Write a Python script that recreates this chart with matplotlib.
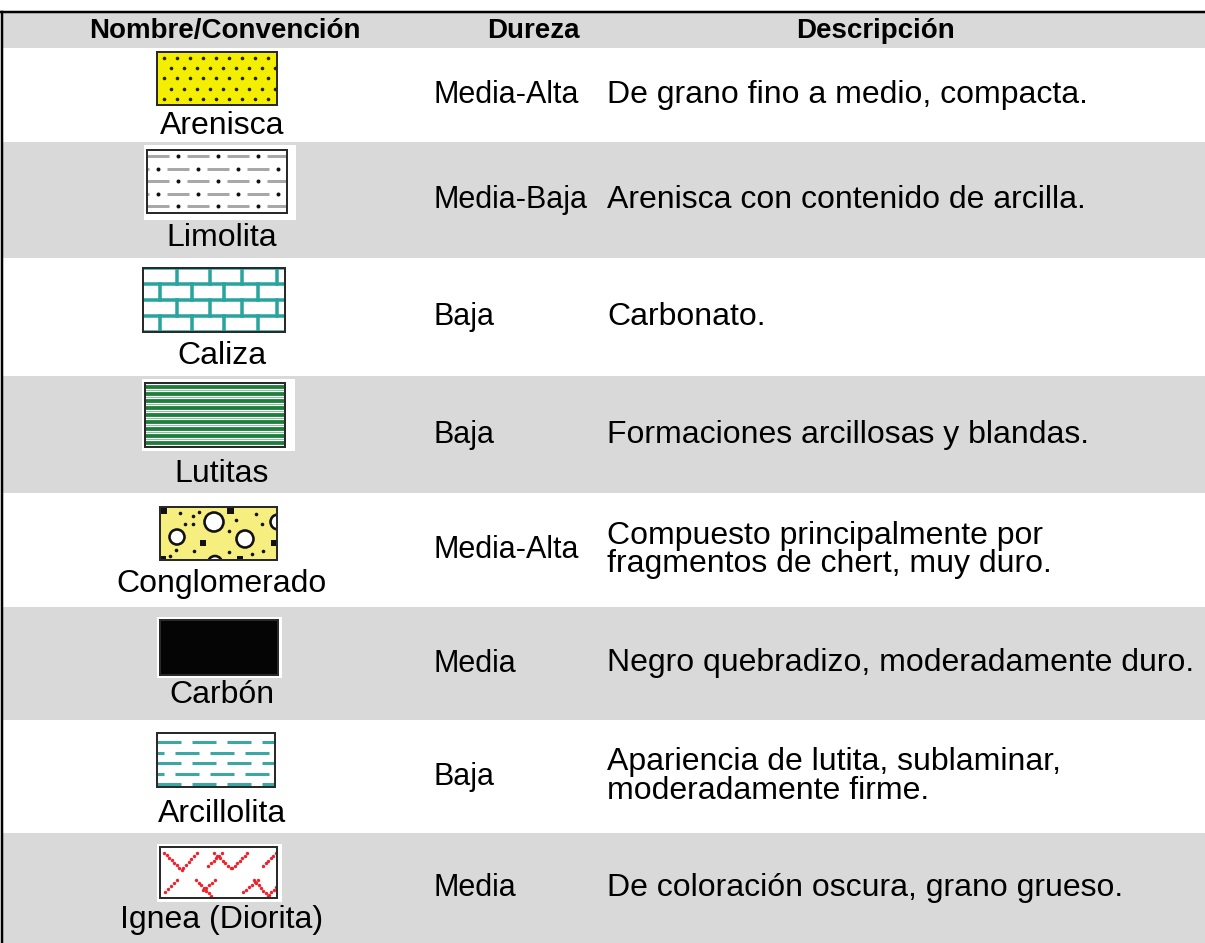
import matplotlib
matplotlib.use("Agg")
import matplotlib.pyplot as plt
import numpy as np
from matplotlib.patches import Rectangle, Circle

plt.rcParams["font.family"] = ["Liberation Sans", "DejaVu Sans"]

# table content
headers = ["Nombre/Convención", "Dureza", "Descripción"]
nombres = ["Arenisca", "Limolita", "Caliza", "Lutitas", "Conglomerado",
           "Carbón", "Arcillolita", "Ignea (Diorita)"]
dureza = ["Media-Alta", "Media-Baja", "Baja", "Baja", "Media-Alta",
          "Media", "Baja", "Media"]
descripcion = [
    "De grano fino a medio, compacta.",
    "Arenisca con contenido de arcilla.",
    "Carbonato.",
    "Formaciones arcillosas y blandas.",
    "Compuesto principalmente por\nfragmentos de chert, muy duro.",
    "Negro quebradizo, moderadamente duro.",
    "Apariencia de lutita, sublaminar,\nmoderadamente firme.",
    "De coloración oscura, grano grueso.",
]
patrones = ["arenisca", "limolita", "caliza", "lutitas", "conglomerado",
            "carbon", "arcillolita", "ignea"]

# layout (pixels)
W, H = 1205, 943
row_edges = [12, 48, 142, 258, 376, 493, 607, 720, 833, 943]
label_base = [134, 246, 364, 482, 592, 703, 822, 928]
GRAY = "#d9d9d9"
PX = 0.72  # px -> pt at dpi 100
FS = 23

# icon boxes: (x0, x1, y0, y1), white backing (x0, x1, y0, y1) or None
icon_box = {
    "arenisca": ((157, 277, 52, 105), None),
    "limolita": ((147, 287, 150, 213), (144, 296, 145, 220)),
    "caliza": ((143, 285, 268, 332), None),
    "lutitas": ((145, 285, 383, 447), (142, 295, 379, 451)),
    "conglomerado": ((160, 277, 507, 560), None),
    "carbon": ((160, 278, 620, 675), (157, 282, 617, 678)),
    "arcillolita": ((157, 275, 733, 787), None),
    "ignea": ((160, 277, 847, 898), (157, 282, 844, 902)),
}


def clip_all(artists, clip):
    for a in artists:
        a.set_clip_path(clip)


def draw_icon(ax, kind):
    (x0, x1, y0, y1), bg = icon_box[kind]
    if bg is not None:
        ax.add_patch(Rectangle((bg[0], bg[2]), bg[1] - bg[0], bg[3] - bg[2],
                               facecolor="white", edgecolor="none", zorder=2))
    fills = {"arenisca": "#f4ee00", "conglomerado": "#f6ef80", "carbon": "#050505"}
    face = fills.get(kind, "white")
    clip = Rectangle((x0, y0), x1 - x0, y1 - y0, transform=ax.transData)
    ax.add_patch(Rectangle((x0, y0), x1 - x0, y1 - y0, facecolor=face,
                           edgecolor="none", zorder=3))
    arts = []
    if kind == "arenisca":
        for r in range(5):
            y = y0 + 6 + r * 10.3
            off = 0 if r % 2 == 0 else 6.5
            xs = np.arange(x0 + 7 + off, x1 - 2, 13)
            arts += ax.plot(xs, np.full_like(xs, y), "o", color="#222222",
                            ms=3.6 * PX, mec="none", zorder=4)
    elif kind == "limolita":
        for r in range(5):
            y = y0 + 6 + r * 12.5
            off = 0 if r % 2 == 0 else -20
            for xs in np.arange(x0 - 40 + off, x1 + 40, 40):
                arts += ax.plot([xs, xs + 22], [y, y], color="#a8a8a8",
                                lw=3 * PX, solid_capstyle="butt", zorder=4)
                arts += ax.plot([xs + 31], [y], "o", color="#111111",
                                ms=4 * PX, mec="none", zorder=4)
    elif kind == "caliza":
        teal = "#27a59c"
        h = (y1 - y0) / 4
        for k in range(5):
            arts += ax.plot([x0, x1], [y0 + k * h] * 2, color=teal,
                            lw=3.5 * PX, zorder=4)
        for k in range(4):
            joints = [177, 210, 242, 277] if k % 2 == 0 else [160, 192, 224, 258]
            for xj in joints:
                arts += ax.plot([xj, xj], [y0 + k * h, y0 + (k + 1) * h],
                                color=teal, lw=3.5 * PX, zorder=4)
    elif kind == "lutitas":
        for y in np.linspace(y0 + 4, y1 - 4, 9):
            arts += ax.plot([x0, x1], [y, y], color="#1c7d3c", lw=3.8 * PX,
                            zorder=4)
            arts += ax.plot([x0, x1], [y + 2.6, y + 2.6], color="#8cc59a",
                            lw=1 * PX, zorder=4)
    elif kind == "conglomerado":
        for cx, cy, r in [(214, 522, 9.5), (177, 537, 7.5), (245, 539, 8.5),
                          (278, 522, 7.5), (215, 563, 7)]:
            c = Circle((cx, cy), r, facecolor="white", edgecolor="#111111",
                       lw=2.6 * PX, zorder=4)
            ax.add_patch(c)
            arts.append(c)
        for sx, sy, s in [(160, 507, 7), (227, 507, 7), (200, 540, 6),
                          (271, 540, 6), (160, 556, 6), (237, 556, 6)]:
            sq = Rectangle((sx, sy), s, s, facecolor="#111111",
                           edgecolor="none", zorder=4)
            ax.add_patch(sq)
            arts.append(sq)
        dots = [(180, 513), (193, 516), (199, 512), (193, 524), (176, 550),
                (229, 531), (236, 520), (256, 514), (262, 524), (194, 551),
                (229, 552), (170, 556), (252, 554), (263, 551), (185, 524)]
        arts += ax.plot([d[0] for d in dots], [d[1] for d in dots], "o",
                        color="#111111", ms=3.6 * PX, mec="none", zorder=4)
    elif kind == "arcillolita":
        for r in range(5):
            y = y0 + 9 + r * 10.5
            off = 0 if r % 2 == 0 else -17
            for xs in np.arange(x0 - 35 + off, x1 + 35, 35):
                arts += ax.plot([xs, xs + 24], [y, y], color="#3aa9a6",
                                lw=3 * PX, solid_capstyle="butt", zorder=4)
    elif kind == "ignea":
        red = "#f0202a"
        segs = [((164, 853), (182, 870)), ((183, 868), (197, 853)),
                ((208, 866), (222, 853)), ((214, 853), (231, 868)),
                ((232, 868), (247, 853)), ((263, 866), (276, 853)),
                ((165, 892), (177, 880)), ((196, 880), (211, 896)),
                ((203, 890), (215, 880)), ((243, 892), (258, 880)),
                ((254, 880), (268, 896)), ((269, 895), (278, 884))]
        for (ax0, ay0), (ax1, ay1) in segs:
            n = int(np.hypot(ax1 - ax0, ay1 - ay0) / 3.5) + 1
            arts += ax.plot(np.linspace(ax0, ax1, n), np.linspace(ay0, ay1, n),
                            "o", color=red, ms=3.4 * PX, mec="none", zorder=4)
    clip_all(arts, clip)
    ax.add_patch(Rectangle((x0, y0), x1 - x0, y1 - y0, facecolor="none",
                           edgecolor="#2a2a2a", lw=2 * PX, zorder=5))


fig = plt.figure(figsize=(W / 100, H / 100), dpi=100)
ax = fig.add_axes([0, 0, 1, 1])
ax.set_xlim(0, W)
ax.set_ylim(H, 0)
ax.axis("off")

# row backgrounds
for i in range(len(row_edges) - 1):
    color = GRAY if i % 2 == 0 else "white"
    ax.add_patch(Rectangle((2, row_edges[i]), W - 2, row_edges[i + 1] - row_edges[i],
                           facecolor=color, edgecolor="none", zorder=1))

# borders
ax.plot([0, W], [row_edges[0], row_edges[0]], color="black", lw=2.5 * PX, zorder=6)
ax.plot([2, 2], [row_edges[0], H], color="black", lw=2.5 * PX, zorder=6)

# header
hy = (row_edges[0] + row_edges[1]) / 2
for x, t in zip([225, 533, 875], headers):
    ax.text(x, hy + 1, t, ha="center", va="center", fontsize=20,
            fontweight="bold", color="black", zorder=7)

for i, (nom, dur, desc, pat) in enumerate(zip(nombres, dureza, descripcion, patrones)):
    yc = (row_edges[i + 1] + row_edges[i + 2]) / 2
    draw_icon(ax, pat)
    ax.text(222, label_base[i], nom, ha="center", va="baseline", fontsize=FS,
            color="black", zorder=7)
    ax.text(434, yc, dur, ha="left", va="center", fontsize=22,
            color="black", zorder=7)
    ax.text(607, yc, desc, ha="left", va="center", fontsize=FS,
            color="black", linespacing=0.95, zorder=7)

fig.savefig("out.png", dpi=100)
